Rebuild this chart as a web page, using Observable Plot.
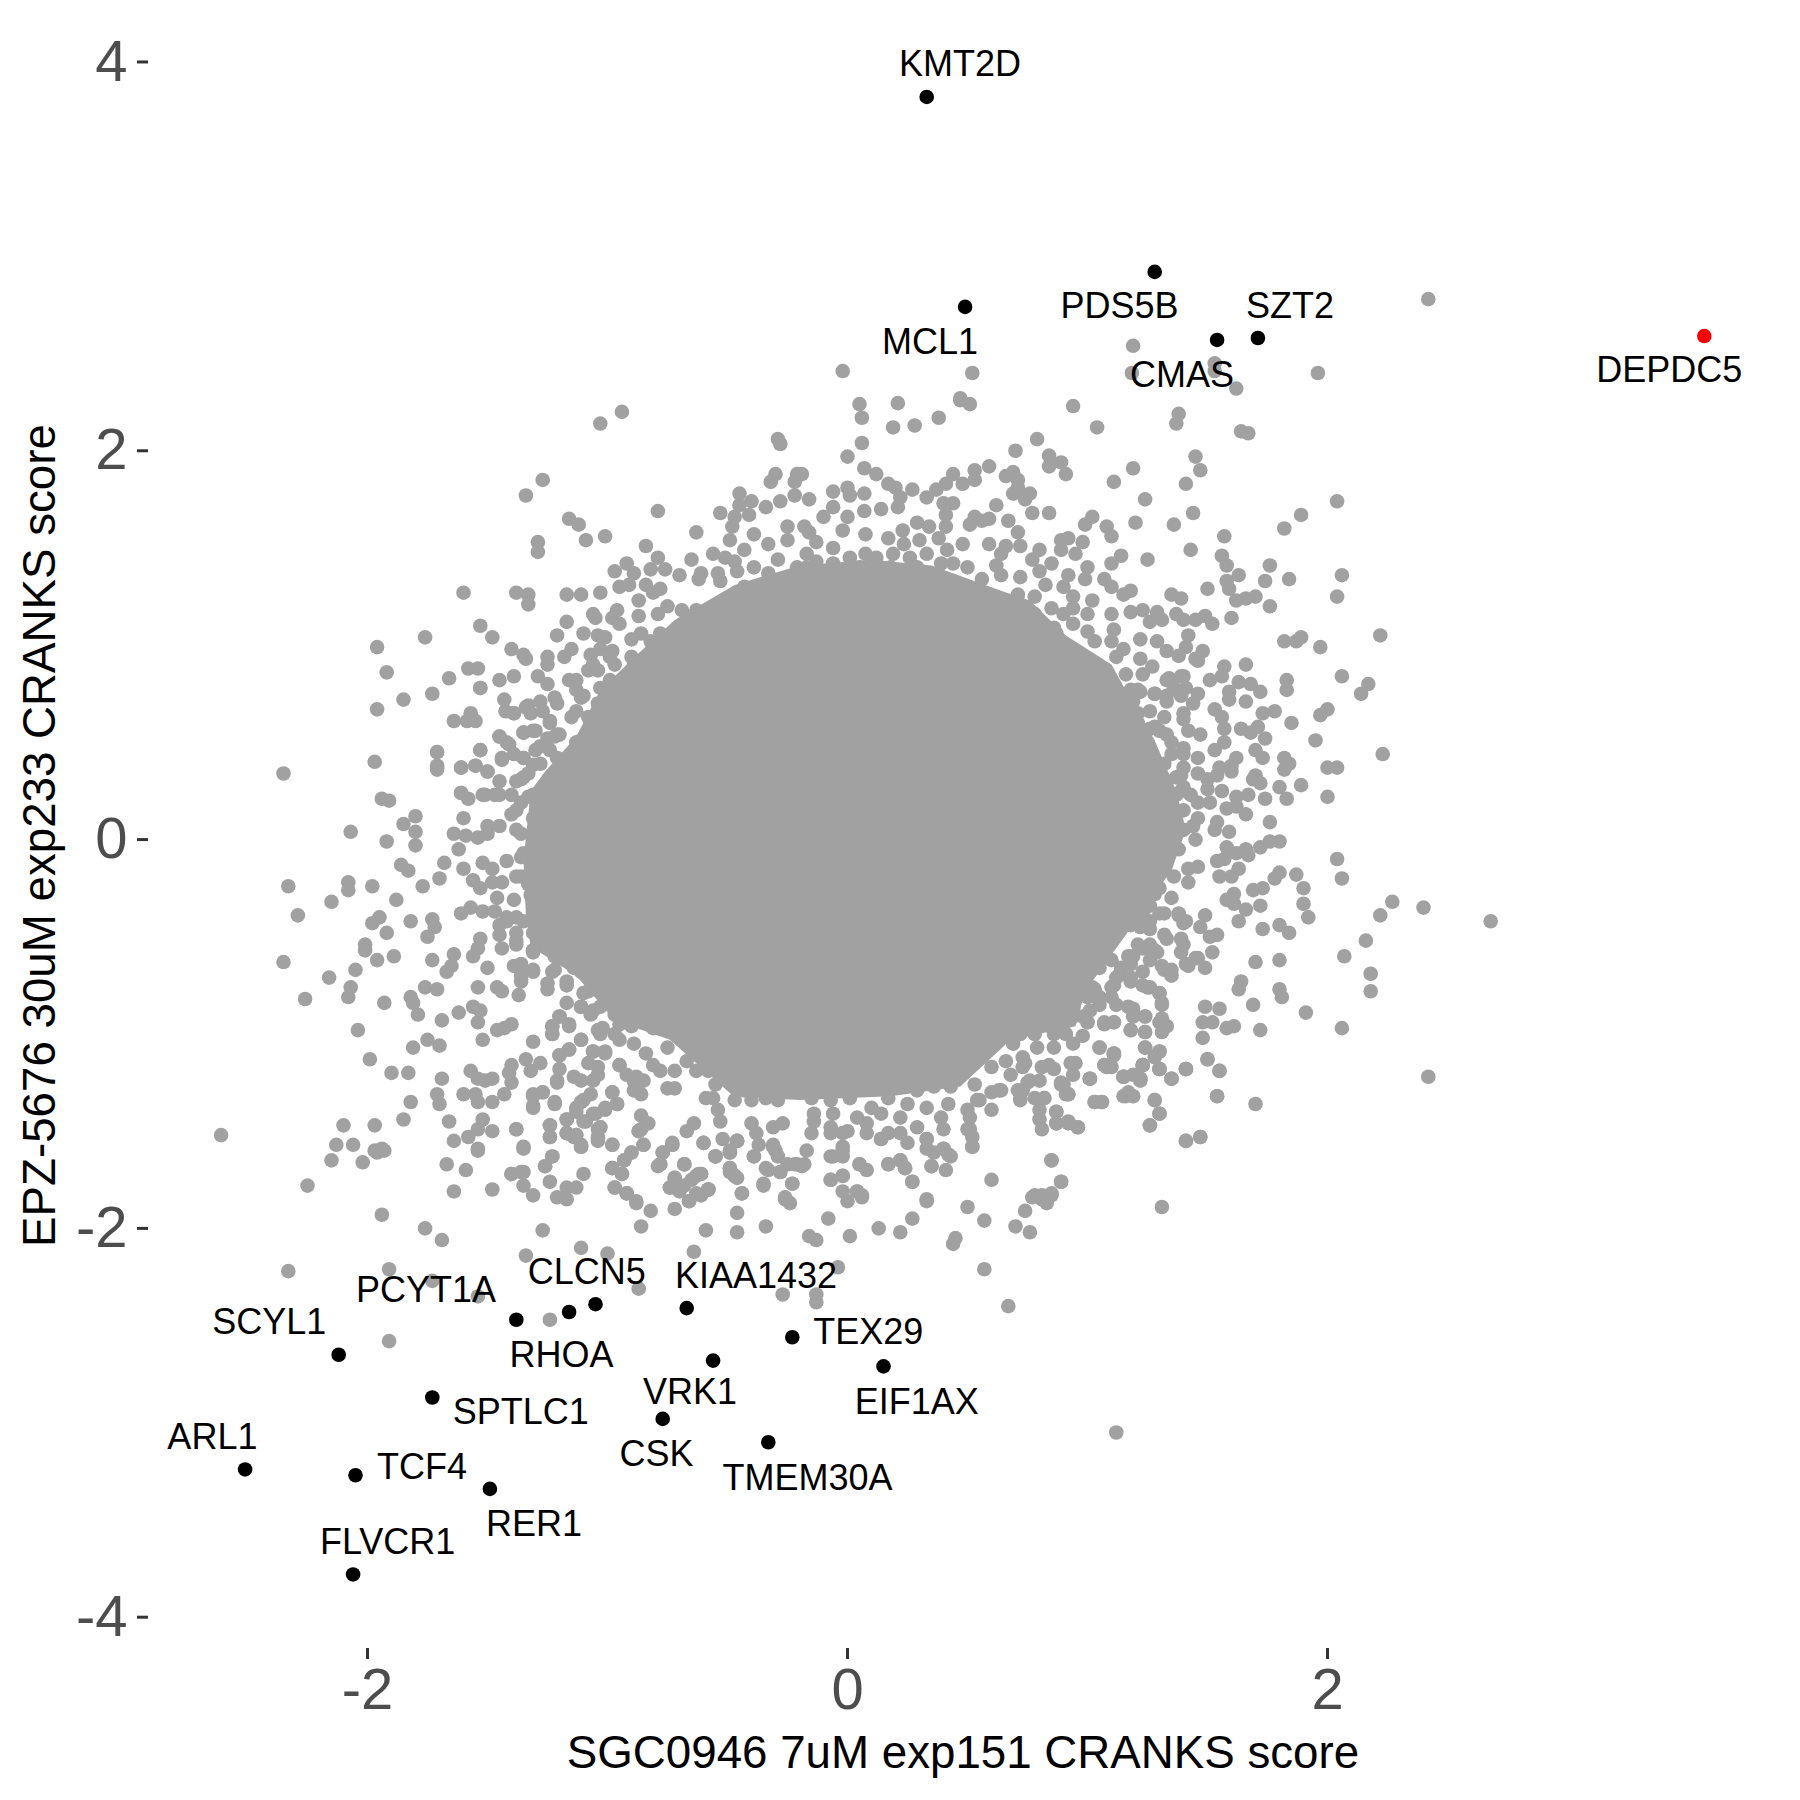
<!DOCTYPE html>
<html><head><meta charset="utf-8">
<style>html,body{margin:0;padding:0;background:#fff}</style>
<script src="https://cdn.jsdelivr.net/npm/d3@7"></script>
<script src="https://cdn.jsdelivr.net/npm/@observablehq/plot@0.6"></script>
</head><body><div id="chart"></div>
<script>
const xTitle = "SGC0946 7uM exp151 CRANKS score";
const yTitle = "EPZ-5676 30uM exp233 CRANKS score";
const xTicks = [-2, 0, 2];
const yTicks = [-4, -2, 0, 2, 4];

// solid centre of the cloud, outline
const coreOutline = [[-.47,1.31],[-.20,1.41],[.10,1.44],[.35,1.41],[.64,1.28],[.76,1.23],[.91,1.05],[1.10,.90],[1.18,.72],[1.28,.51],[1.37,.25],[1.41,.05],[1.35,-.16],[1.26,-.31],[1.16,-.49],[.99,-.78],[.95,-.96],[.68,-1.03],[.47,-1.27],[.18,-1.32],[-.20,-1.34],[-.475,-1.32],[-.74,-1.03],[-.97,-.93],[-1.13,-.70],[-1.32,-.55],[-1.34,-.39],[-1.35,-.11],[-1.32,.25],[-1.26,.35],[-1.13,.53],[-1.03,.77],[-.86,.97],[-.72,1.13]];

const grayUpperLeft = [[-1.03,2.14],[-.94,2.20],[-.29,2.06],[-.28,2.035],[-1.27,1.85],[-1.34,1.77],[-.79,1.69],[-1.16,1.65],[-1.12,1.62],[-1.09,1.54],[-1.01,1.56],[-1.29,1.53],[-1.29,1.48],[-.63,1.58],[-.53,1.68],[-.45,1.78],[-.40,1.74],[-.34,1.71],[-.28,1.74],[-.30,1.88],[-.32,1.84],[-.21,1.88],[-.22,1.84],[-.22,1.77],[-.45,1.72],[-.47,1.66],[-.41,1.67],[-.39,1.57],[-.48,1.61],[-.49,1.54],[-.43,1.49],[-.84,1.51],[-.79,1.45],[-.76,1.39],[-.82,1.39],[-.92,1.42],[-.89,1.37],[-.97,1.38],[-.95,1.30],[-.91,1.31],[-.84,1.31],[-.78,1.29],[-.81,1.27],[-.70,1.36],[-.65,1.44],[-.56,1.47],[-.51,1.45],[-.61,1.37],[-.62,1.34],[-.54,1.37],[-.33,1.52],[-.25,1.54],[-.29,1.44],[-.25,1.61],[-.47,1.43],[-1.60,1.27],[-1.38,1.27],[-1.33,1.26],[-1.33,1.21],[-1.17,1.26],[-1.11,1.26],[-1.03,1.27],[-.87,1.23],[-1.06,1.16],[-1.05,1.14],[-.96,1.18],[-.98,1.14],[-.95,1.11],[-1.17,1.12],[-1.53,1.10],[-1.48,1.04],[-1.76,1.04],[-1.21,1.05],[-1.10,1.06],[-1.04,1.05],[-1.01,1.04],[-.87,1.15],[-.79,1.16],[-.75,1.20],[-.69,1.18],[-.63,1.18],[-1.40,.98],[-1.35,.95],[-1.34,.93],[-1.15,.98],[-1.18,.94],[-1.25,.94],[-1.58,.88],[-1.54,.88],[-1.66,.83],[-1.53,.78],[-1.39,.84],[-1.45,.82],[-1.25,.90],[-1.29,.84],[-1.25,.80],[-1.16,.82],[-1.73,.75],[-1.85,.72],[-1.43,.72],[-1.425,.66],[-1.39,.65],[-1.33,.69],[-1.32,.65],[-1.28,.71],[-1.22,.73],[-1.64,.61],[-1.57,.65],[-1.585,.61],[-1.55,.61],[-1.24,.61],[-1.35,.55],[-1.30,.56],[-1.22,.53],[-1.45,.53],[-1.42,.50],[-1.53,.46],[-1.71,.45],[-1.71,.38],[-1.71,.36],[-1.61,.37],[-1.55,.38],[-1.50,.35],[-1.44,.42],[-1.45,.30],[-1.39,.44],[-1.35,.42],[-1.61,.24],[-1.51,.23],[-1.38,.30],[-1.33,.34],[-1.30,.46],[-1.07,.95],[-1.03,.98],[-.98,.97],[-1.04,.87],[-1.13,.77]];

const grayUpperRight = [[.05,2.24],[.06,2.17],[.21,2.245],[.19,2.12],[.28,2.13],[.38,2.17],[.47,2.26],[.51,2.24],[.94,2.23],[1.04,2.12],[1.38,2.19],[1.37,2.14],[.06,2.04],[0,1.97],[.07,1.91],[.12,1.88],[.17,1.83],[.20,1.81],[.22,1.76],[.21,1.71],[.27,1.80],[.70,2.0],[.79,2.06],[.84,1.975],[.84,1.92],[.89,1.94],[.91,1.88],[.59,1.92],[.53,1.90],[.53,1.85],[.44,1.88],[.41,1.83],[.37,1.80],[.33,1.76],[.48,1.83],[.69,1.89],[.66,1.87],[.71,1.85],[.71,1.81],[.69,1.78],[.76,1.78],[.74,1.75],[-.19,1.88],[0,1.81],[-.06,1.79],[.01,1.77],[.07,1.78],[-.16,1.75],[.40,1.73],[.44,1.73],[.41,1.67],[.41,1.61],[.62,1.72],[.53,1.66],[.59,1.65],[.56,1.64],[.51,1.62],[.77,1.68],[.84,1.68],[.67,1.64],[.71,1.58],[-.06,1.71],[-.10,1.66],[.14,1.70],[0,1.66],[.07,1.69],[-.02,1.59],[-.18,1.61],[-.16,1.58],[-.13,1.53],[-.06,1.50],[-.17,1.47],[.29,1.63],[.34,1.61],[.23,1.59],[.075,1.57],[.17,1.55],[.235,1.52],[.075,1.47],[.38,1.55],[.30,1.54],[.415,1.49],[.48,1.52],[.59,1.52],[.66,1.51],[.72,1.51],[.64,1.47],[.62,1.41],[.50,1.40],[.44,1.42],[.56,1.34],[.64,1.36],[1.02,1.66],[.99,1.62],[1.08,1.61],[1.10,1.56],[1.20,1.63],[1.36,1.62],[1.11,1.84],[1.19,1.91],[1.24,1.75],[1.41,1.83],[1.45,1.97],[1.47,1.90],[1.44,1.68],[.89,1.54],[.92,1.55],[.98,1.53],[.95,1.47],[.89,1.49],[.80,1.49],[.85,1.42],[.77,1.44],[.80,1.38],[1.0,1.40],[.92,1.36],[.99,1.34],[1.25,1.44],[1.43,1.49],[1.14,1.46],[1.10,1.42],[1.07,1.34],[1.10,1.30],[1.18,1.28],[1.15,1.26],[1.35,1.26],[1.39,1.24],[1.37,1.16],[1.40,1.13],[1.45,1.13],[1.10,1.16],[1.18,1.17],[1.23,1.18],[1.29,1.17],[1.31,1.13],[1.26,1.12],[1.02,1.23],[1.0,1.16],[.90,1.30],[.94,1.25],[.94,1.19],[.825,1.31],[.72,1.35],[1.11,1.08],[.87,1.06],[1.42,1.05],[1.22,1.03],[1.29,1.02],[1.33,.97],[1.38,.945],[1.41,.99],[1.15,.98],[1.22,.93],[1.27,.89],[1.23,.85],[1.46,.92],[1.34,.83],[1.40,.84],[1.21,.77],[1.28,.75],[1.19,.71],[1.36,.78],[1.41,.78],[1.33,.71],[1.26,.66],[1.40,.65],[1.32,.63],[1.28,.58],[1.19,.54],[1.22,.47],[1.33,.54],[1.40,.47],[1.32,.39],[1.40,.37],[1.39,.25],[1.23,.22],[1.19,2.54],[1.185,2.40],[.52,2.40],[-.02,2.41],[.47,2.27],[2.42,2.78],[1.96,2.40],[1.53,2.45],[1.53,2.41],[1.62,2.32],[1.64,2.10],[1.67,2.09],[2.04,1.74],[1.89,1.67],[1.82,1.60],[1.57,1.56]];

const grayRight = [[1.56,1.46],[1.58,1.41],[1.63,1.36],[1.58,1.33],[1.59,1.29],[1.50,1.29],[1.62,1.23],[1.66,1.24],[1.70,1.25],[1.76,1.41],[1.74,1.33],[1.84,1.34],[1.76,1.20],[2.06,1.36],[2.04,1.25],[1.60,1.14],[1.52,1.11],[1.49,1.15],[1.82,1.02],[1.87,1.02],[1.89,1.04],[1.97,.99],[2.22,1.05],[1.48,.97],[1.45,.93],[1.57,.89],[1.66,.90],[2.06,.84],[2.17,.80],[2.14,.75],[1.83,.82],[1.83,.77],[1.51,.82],[1.56,.84],[1.63,.81],[1.68,.80],[1.72,.76],[1.59,.76],[1.59,.72],[1.66,.71],[1.78,.66],[1.73,.65],[2.0,.67],[1.97,.64],[1.85,.60],[1.95,.51],[1.53,.67],[1.56,.63],[1.57,.57],[1.64,.57],[1.68,.55],[1.71,.58],[1.74,.52],[1.57,.50],[1.70,.46],[1.73,.42],[1.82,.42],[1.84,.39],[1.82,.36],[2.23,.44],[2.0,.37],[2.04,.37],[1.62,.42],[1.60,.35],[1.54,.33],[1.70,.33],[1.69,.31],[1.72,.29],[1.80,.27],[1.89,.28],[2.0,.22],[1.83,.21],[1.74,.21],[1.67,.23],[1.62,.22],[1.56,.25],[1.51,.19],[1.58,.16],[1.62,.17],[1.66,.13],[1.76,.09],[1.54,.09],[1.53,.05],[1.59,.04],[1.45,0],[1.46,.11],[1.40,.05],[1.35,.10],[1.58,-.04],[1.62,-.07],[1.66,-.05],[1.67,-.08],[1.72,-.04],[1.76,-.01],[1.80,-.01],[1.54,-.11],[1.57,-.10],[1.46,-.14],[1.42,-.15],[1.42,-.22],[1.55,-.19],[1.60,-.19],[1.63,-.15],[2.04,-.10],[2.06,-.20],[1.80,-.17],[1.78,-.20],[1.87,-.18],[1.90,-.25],[1.90,-.33],[1.92,-.40],[1.69,-.26],[1.73,-.25],[1.61,-.28],[1.58,-.31],[1.61,-.33],[1.66,-.36],[1.72,-.34],[2.27,-.32],[2.22,-.39],[2.40,-.35],[2.68,-.42],[1.63,-.42],[1.49,-.39],[1.38,-.38],[1.41,-.42],[1.47,-.45],[1.73,-.46],[1.80,-.44],[1.84,-.48],[1.54,-.49],[1.51,-.50],[2.16,-.52],[2.07,-.60],[2.18,-.69],[2.18,-.78],[1.70,-.63],[1.80,-.62],[1.64,-.73],[1.63,-.77],[1.80,-.77],[1.81,-.81],[1.91,-.89],[2.06,-.97],[1.69,-.85],[1.49,-.86],[1.55,-.87],[1.48,-.94],[1.52,-.94],[1.58,-.97],[1.61,-.96],[1.72,-.98],[1.48,-1.02],[1.50,-1.13],[1.55,-1.19],[2.42,-1.22],[1.54,-1.32],[1.70,-1.36],[1.41,-1.18],[1.35,-1.23],[1.30,-1.18],[1.30,-1.09],[1.24,-1.07],[1.23,-1.16],[1.22,-1.23],[1.15,-1.22],[1.11,-1.10],[1.05,-1.07],[1.08,-1.17],[1.01,-1.23],[1.28,-1.34],[1.30,-1.41],[1.26,-1.47],[1.41,-1.55],[1.47,-1.53],[1.19,-1.32],[1.15,-1.32],[1.17,-1.30],[1.03,-1.35],[1.06,-1.35],[.92,-1.31],[.96,-1.48],[.92,-1.46],[.87,-1.40],[.87,-1.46],[.89,-1.25],[1.33,-.96],[1.31,-.92],[1.24,-.99],[1.18,-.98],[1.24,-.91],[1.31,-.84],[1.30,-.79],[1.26,-.76],[1.23,-.75],[1.18,-.71],[1.13,-.70],[1.11,-.75],[1.02,-.76],[1.04,-.81],[1.19,-.87],[1.11,-.94],[1.07,-.95],[1.0,-.94],[1.35,-.70],[1.32,-.67],[1.42,-.65],[1.49,-.66],[1.52,-.58],[1.45,-.61],[1.39,-.58],[1.29,-.58],[1.39,-.51],[1.33,-.51],[1.26,-.05],[1.33,-.03],[1.38,-.05],[1.32,-.13],[1.36,-.19],[1.30,-.25],[1.35,-.30],[1.26,-.34],[1.32,-.38],[1.26,-.46],[1.23,-.56],[1.19,-.60],[1.26,.21],[1.30,.27],[1.39,.33],[1.37,.23],[1.43,.23],[1.46,.34],[1.40,.27],[1.40,.15],[1.46,.19],[1.50,.26],[1.55,.37],[1.50,.31],[1.60,.38],[1.44,.07],[1.36,.04],[1.32,.31],[1.29,.38],[1.35,.44],[1.40,.44],[1.46,.42],[1.53,.46],[1.47,.54],[1.42,.56],[1.35,.50],[1.30,.56],[1.26,.57],[1.40,.62],[1.46,.75],[1.44,.70],[1.33,.82],[1.39,.84],[1.39,.74],[1.33,.74],[1.22,.76],[1.28,.75],[1.18,.72]];

const grayLeft = [[-1.96,.99],[-1.92,.86],[-1.96,.67],[-1.97,.40],[-2.35,.34],[-1.94,.21],[-1.91,.20],[-1.80,.12],[-1.85,.08],[-1.80,.04],[-1.80,-.03],[-2.07,.04],[-1.92,-.01],[-1.60,.11],[-1.64,.03],[-1.59,.02],[-1.54,.01],[-1.50,.03],[-1.50,.07],[-1.62,-.05],[-1.68,-.12],[-1.60,-.15],[-1.42,-.11],[-1.52,-.12],[-1.48,-.15],[-1.86,-.13],[-1.83,-.16],[-1.70,-.20],[-1.77,-.24],[-1.56,-.21],[-1.53,-.25],[-1.48,-.22],[-1.44,-.22],[-2.33,-.24],[-2.08,-.22],[-2.08,-.26],[-1.98,-.24],[-2.15,-.32],[-1.88,-.31],[-2.29,-.39],[-1.61,-.38],[-1.57,-.35],[-1.52,-.37],[-1.46,-.30],[-1.39,-.31],[-1.98,-.43],[-1.95,-.40],[-1.82,-.42],[-1.73,-.41],[-1.72,-.45],[-1.75,-.50],[-1.92,-.48],[-2.01,-.54],[-2.01,-.57],[-2.35,-.63],[-1.96,-.62],[-1.89,-.60],[-1.73,-.62],[-1.53,-.51],[-1.54,-.56],[-1.56,-.60],[-1.44,-.56],[-1.64,-.59],[-1.65,-.65],[-1.67,-.68],[-1.50,-.66],[-2.05,-.67],[-2.16,-.71],[-2.07,-.76],[-2.08,-.81],[-2.26,-.82],[-1.93,-.84],[-1.82,-.81],[-1.81,-.84],[-1.76,-.76],[-1.71,-.77],[-1.54,-.76],[-1.46,-.76],[-1.44,-.78],[-1.37,-.80],[-1.79,-.90],[-1.69,-.93],[-1.62,-.89],[-1.56,-.86],[-1.53,-.88],[-1.54,-.94],[-2.04,-.98],[-1.75,-1.03],[-1.70,-1.06],[-1.81,-1.07],[-1.52,-1.03],[-1.46,-.98],[-1.43,-.97],[-1.40,-.95],[-1.99,-1.13],[-1.90,-1.20],[-1.83,-1.20],[-1.69,-1.23],[-1.57,-1.19],[-1.54,-1.23],[-1.51,-1.24],[-1.48,-1.23],[-1.40,-1.16],[-1.41,-1.20],[-1.40,-1.25],[-1.31,-1.04],[-1.34,-1.13],[-1.28,-1.15],[-1.32,-1.19],[-1.71,-1.31],[-1.70,-1.36],[-1.82,-1.35],[-1.60,-1.31],[-1.55,-1.31],[-1.54,-1.35],[-1.48,-1.35],[-1.43,-1.31],[-1.31,-1.31],[-1.27,-1.30],[-1.31,-1.37],[-1.22,-1.35],[-1.85,-1.44],[-1.97,-1.47],[-2.10,-1.47],[-1.66,-1.45],[-1.52,-1.44],[-2.61,-1.52],[-2.13,-1.57],[-2.06,-1.57],[-1.97,-1.60],[-1.94,-1.59],[-1.64,-1.55],[-1.58,-1.53],[-1.54,-1.49],[-1.48,-1.50],[-1.38,-1.49],[-1.35,-1.58],[-1.54,-1.59],[-1.36,-.70],[-1.31,-.68],[-1.39,-.65],[-1.23,-.68],[-1.25,-.77],[-1.17,-.75],[-1.10,-.79],[-1.17,-.84],[-1.20,-.91],[-1.16,-.95],[-1.23,-.96],[-1.23,-1.0],[-1.11,-.86],[-1.06,-.88],[-1.03,-1.0],[-.95,-.95],[-1.11,-1.03],[-1.20,-1.11],[-1.16,-1.08],[-1.20,-1.18],[-1.21,-1.24],[-1.06,-1.09],[-1.01,-1.10],[-1.04,-1.17],[-1.06,-1.24],[-.95,-1.16],[-.89,-1.24],[-.98,-1.30],[-.96,-1.36],[-1.11,-1.35],[-1.13,-1.40],[-1.01,-1.39],[-1.05,-1.41],[-1.03,-1.48],[-1.17,-1.44],[-1.09,-1.45],[-1.24,-1.47],[-1.24,-1.53],[-1.17,-1.51],[-1.13,-1.52],[-1.04,-1.53],[-1.11,-1.57],[-.98,-1.57],[-.87,-1.50],[-1.24,.60],[-1.40,.13],[-1.36,.03],[-1.35,-.07],[-1.36,-.19],[-1.33,-.23],[-1.31,-.42],[-1.38,-.52],[-1.38,.15],[-1.42,-.40],[-1.45,-.44],[-1.31,-.57],[-1.45,.07],[-1.45,.23],[-1.53,.78],[-1.39,.65],[-1.45,.53],[-1.41,.49],[-1.53,.46],[-1.71,.45],[-1.71,.37],[-1.61,.37],[-1.55,.38],[-1.50,.35],[-1.44,.41],[-1.35,.42],[-1.61,.24],[-1.58,.21],[-1.52,.23],[-1.47,.23],[-1.35,.55],[-1.31,.56],[-1.25,.52]];

const grayLowerLeft = [[-2.15,-1.65],[-2.02,-1.66],[-1.96,-1.61],[-1.93,-1.60],[-2.25,-1.78],[-1.54,-1.60],[-1.67,-1.67],[-1.59,-1.70],[-1.64,-1.81],[-1.48,-1.80],[-1.23,-1.63],[-1.26,-1.68],[-1.40,-1.72],[-1.35,-1.71],[-1.35,-1.78],[-1.31,-1.83],[-1.24,-1.76],[-1.10,-1.72],[-1.13,-1.79],[-1.17,-1.79],[-1.21,-1.84],[-1.17,-1.85],[-1.14,-1.53],[-1.11,-1.58],[-1.04,-1.49],[-1.04,-1.55],[-.93,-1.65],[-.90,-1.61],[-.98,-1.69],[-.94,-1.72],[-.97,-1.79],[-.92,-1.82],[-.88,-1.87],[-.82,-1.91],[-.72,-1.90],[-.86,-1.99],[-.59,-2.01],[-.46,-1.92],[-.46,-2.02],[-.44,-1.82],[-.85,-1.57],[-.86,-1.49],[-.78,-1.67],[-.77,-1.61],[-.73,-1.56],[-.68,-1.67],[-.72,-1.74],[-.74,-1.79],[-.70,-1.81],[-.66,-1.86],[-.61,-1.83],[-.58,-1.80],[-.61,-1.72],[-.65,-1.75],[-.55,-1.63],[-.49,-1.71],[-.46,-1.74],[-.49,-1.61],[-.46,-1.55],[-1.94,-1.93],[-1.76,-2.0],[-1.69,-2.06],[-1.27,-2.01],[-2.33,-2.22],[-1.11,-2.10],[-1.0,-2.13],[-1.34,-2.14],[-.64,-2.12],[-1.91,-2.21],[-1.73,-2.27],[-1.54,-2.35],[-.87,-2.31],[-1.24,-2.47],[-1.91,-2.58]];

const grayLowerMid = [[1.12,-3.05],[.67,-2.40],[.57,-2.21],[-.27,-2.34],[-.13,-2.34],[-.13,-2.38],[-.04,-2.20],[-.34,-1.99],[-.16,-2.04],[-.13,-2.06],[.01,-2.04],[.13,-2.0],[.22,-2.02],[.27,-1.95],[-.08,-1.95],[.33,-1.86],[.45,-2.05],[.44,-2.08],[.50,-1.89],[.57,-1.96],[.70,-1.99],[.76,-2.02],[.74,-1.91],[.77,-1.84],[.81,-1.85],[.83,-1.87],[.85,-1.83],[.89,-1.76],[.85,-1.65],[1.31,-1.89],[1.41,-1.55],[1.47,-1.53],[.60,-1.75],[.27,-1.76],[-.07,-1.75],[-.02,-1.73],[-.02,-1.81],[0,-1.86],[.04,-1.81],[.06,-1.84],[.05,-1.67],[.08,-1.70],[.17,-1.67],[.22,-1.65],[.24,-1.69],[.35,-1.68],[.41,-1.70],[-.23,-1.77],[-.26,-1.85],[-.24,-1.87],[-.35,-1.77],[-.49,-1.69],[-.47,-1.73],[-.34,-1.69],[-.28,-1.71],[-.22,-1.67],[-.19,-1.68],[-.68,-1.67],[-.62,-1.72],[-.58,-1.80],[-.66,-1.86],[-.72,-1.79],[-.78,-1.67],[-.39,-1.63],[-.55,-1.63],[-.49,-1.61],[-.46,-1.55],[-.30,-1.60],[-.31,-1.57],[-.60,-1.56],[-.73,-1.57],[-.07,-1.63],[-.02,-1.60],[-.17,-1.60],[.14,-1.54],[.25,-1.56],[.33,-1.54],[.33,-1.59],[.42,-1.62],[.40,-1.59],[.52,-1.58],[.52,-1.53],[.50,-1.49],[.29,-1.48],[.40,-1.49],[.60,-1.39],[.81,-1.49],[.80,-1.44],[.80,-1.39],[.87,-1.40],[.87,-1.46],[.92,-1.45],[.96,-1.48],[1.03,-1.35],[1.06,-1.35],[1.16,-1.32],[1.19,-1.32],[1.26,-1.47],[1.30,-1.41],[1.28,-1.34],[.72,-1.33],[.82,-1.33],[.92,-1.31],[1.01,-1.23],[1.15,-1.22],[1.22,-1.23],[1.23,-1.16],[1.30,-1.18],[1.35,-1.23],[1.41,-1.18],[1.50,-1.13],[1.55,-1.19],[1.54,-1.32],[1.11,-1.11],[1.07,-1.16],[.74,-1.15],[.84,-1.16],[.93,-1.15],[.89,-1.26],[.76,-1.24],[.71,-1.29],[.63,-1.29]];

const grayBottomFringe = [[-1.11,-.86],[-1.07,-.90],[-1.20,-.91],[-1.16,-.96],[-1.23,-.96],[-1.23,-1.0],[-1.04,-.98],[-.97,-.90],[-.90,-.96],[-.95,-1.03],[-.89,-1.05],[-1.11,-1.03],[-1.16,-1.08],[-1.20,-1.11],[-1.01,-1.09],[-1.06,-1.09],[-.95,-1.16],[-.81,-1.16],[-1.08,-1.15],[-1.04,-1.21],[-1.14,-1.22],[-1.21,-1.25],[-1.11,-1.24],[-.88,-1.22],[-.92,-1.21],[-.85,-1.24],[-.89,-1.29],[-.98,-1.30],[-.86,-1.31],[-.72,-1.19],[-.75,-1.28],[-.72,-1.28],[-.63,-1.19],[-.58,-1.19],[-.55,-1.26],[-.49,-1.23],[-.56,-1.33],[-.59,-1.33],[-.47,-1.34],[-.40,-1.34],[-.34,-1.33],[-.29,-1.34],[-.21,-1.27],[-.54,-1.39],[-.96,-1.36],[-1.01,-1.38],[-1.06,-1.41],[-1.13,-1.38],[-1.10,-1.34],[-1.07,-1.31],[-1.17,-1.44],[-1.10,-1.45],[-1.03,-1.48],[-1.04,-1.54],[-1.11,-1.58],[-1.17,-1.51],[-1.13,-1.52],[-1.22,-1.36],[-1.31,-1.38],[-1.31,-1.32],[-1.27,-1.30],[-1.24,-1.47],[-1.24,-1.53],[-1.38,-1.49],[-1.35,-1.59],[-1.26,-1.68],[-1.23,-1.63],[-1.40,-1.72],[-1.36,-1.71],[-.98,-1.57],[-.90,-1.61],[-.93,-1.65],[-.98,-1.69],[-.94,-1.72],[-.97,-1.79],[-.92,-1.82],[-.88,-1.86],[-.85,-1.57],[-.87,-1.50],[-.83,-1.46],[-.86,-1.42],[-.77,-1.61],[-.79,-1.68],[-.73,-1.57],[-.68,-1.67],[-.72,-1.74],[-.74,-1.79],[-.68,-1.78],[-.63,-1.73],[-.61,-1.72],[-.58,-1.80],[-.63,-1.82],[-.67,-1.50],[-.64,-1.46],[-.60,-1.56],[-.53,-1.45],[-.52,-1.54],[-.55,-1.63],[-.46,-1.55],[-.49,-1.60],[-.49,-1.69],[-.47,-1.73],[-.39,-1.63],[-.37,-1.57],[-.44,-1.82],[-.33,-1.70],[-.28,-1.71],[-.35,-1.78],[-.31,-1.58],[-.29,-1.63],[-.23,-1.77],[-.25,-1.67],[-.21,-1.67],[-.26,-1.84],[-.40,-1.46],[-.31,-1.48],[-.27,-1.46],[-.38,-1.51],[.51,-1.49],[.52,-1.58],[.51,-1.43],[.50,-1.39],[.33,-1.54],[.36,-1.61],[.40,-1.59],[.43,-1.63],[.14,-1.54],[.17,-1.51],[.22,-1.51],[.08,-1.51],[.08,-1.46],[.35,-1.68],[.27,-1.76],[.17,-1.67],[.22,-1.65],[.24,-1.69],[.05,-1.67],[-.02,-1.73],[-.07,-1.75],[.04,-1.81],[.06,-1.83],[.33,-1.85],[.85,-1.65],[.89,-1.76],[.78,-1.83],[.81,-1.83],[.85,-1.82],[-.02,-1.63],[-.06,-1.63],[-.02,-1.58],[-.07,-1.51],[-.02,-1.51],[-.14,-1.45],[-.07,-1.48],[-.18,-1.67],[.73,-1.29],[.72,-1.34],[.78,-1.33],[.82,-1.33],[.75,-1.25],[.80,-1.24],[.91,-1.31],[.90,-1.26],[.94,-1.21],[1.01,-1.23],[.86,-1.18],[.81,-1.17],[.95,-1.15],[.73,-1.12],[.73,-1.17],[.68,-1.21],[.64,-1.29],[.60,-1.30],[.55,-1.34],[.86,-1.07],[.79,-1.07],[.94,-1.05],[.98,-1.01],[1.05,-1.07],[1.11,-1.10],[1.07,-1.16],[1.10,-1.17],[1.15,-1.22],[1.19,-1.21],[1.22,-1.24],[1.23,-1.16],[1.24,-1.07],[1.30,-1.09],[1.28,-1.12],[1.30,-1.18],[1.35,-1.23],[1.41,-1.18],[1.18,-.98],[1.24,-.99],[1.30,-.94],[1.33,-.96],[1.31,-.99],[1.0,-.94],[1.07,-.94],[1.11,-.94],[1.24,-.91],[1.17,-.86],[1.19,-.91],[1.12,-.85],[1.31,-.85],[1.30,-.79],[1.25,-.76],[1.18,-.73],[1.12,-.71],[1.10,-.76],[1.03,-.77],[1.05,-.81],[1.35,-.67],[1.31,-.65],[1.41,-.64],[1.46,-.61],[1.28,-.57],[1.40,-.54],[1.38,-.39],[1.40,-.43]];

// points packed against the solid centre, where the picture is nearly closed
const grayEdgeLeft = [[-1.31,.385],[-1.24,.31],[-1.36,.31],[-1.31,.23],[-1.24,.19],[-1.36,.19],[-1.20,.11],[-1.31,.11],[-1.38,.05],[-1.25,.03],[-1.31,-.05],[-1.36,-.09],[-1.22,-.09],[-1.31,-.17],[-1.25,-.23],[-1.38,-.19],[-1.32,-.285],[-1.25,-.34],[-1.38,-.40],[-1.31,-.48],[-1.24,-.48],[-1.18,-.40],[-1.17,-.58],[-1.11,-.68],[-1.22,-.60],[-1.31,-.58],[-1.38,-.48],[-1.17,-.245],[-1.17,-.13],[-1.14,-.01],[-1.14,.15],[-1.17,.27],[-1.13,.385],[-1.21,.42],[-1.28,.48],[-1.21,.54],[-1.13,.50],[-1.07,.58],[-1.13,.66],[-1.04,.70],[-.99,.62],[-1.07,.42],[-1.02,.31],[-1.03,.46],[-.95,.54],[-.93,.70],[-.89,.90],[-1.06,.90],[-.99,.94],[-.90,1.03],[-.99,.82],[-1.13,.82],[-1.21,.70],[-1.27,.66],[-1.34,.68],[-1.10,.74]];

const grayEdgeUpperLeft = [[-.97,.90],[-.90,.94],[-.82,1.02],[-.86,1.06],[-.78,1.06],[-.71,1.07],[-.89,.85],[-.96,.80],[-1.03,.78],[-1.08,.87],[-1.0,.68],[-.93,.71],[-.85,.80],[-.78,.89],[-1.11,.73],[-1.15,.63],[-1.08,.63],[-1.02,.58],[-1.20,.54],[-1.11,.51],[-1.24,.46],[-1.17,.42],[-1.10,.44],[-1.28,.39],[-1.21,.34],[-1.14,.35],[-1.35,.32],[-1.28,.25],[-1.20,.25],[-1.40,.23],[-1.33,.22],[-1.13,.25],[-1.04,.47],[-.97,.54],[-.90,.63],[-.83,.71],[-.95,.46],[-.86,.58],[-.78,.68],[-.71,.78],[-.67,.95],[-.64,1.06],[-.57,1.14],[-.50,1.23],[-.43,1.30],[-.53,1.33],[-.46,1.38],[-.39,1.40],[-.33,1.37],[-.24,1.33],[-.21,1.40],[-.68,.89],[-.61,1.02],[-.54,1.06],[-.47,1.14]];

const grayEdgeTop = [[-.13,1.43],[-.06,1.42],[.01,1.45],[.12,1.45],[.19,1.47],[.26,1.45],[.33,1.47],[.39,1.42],[.18,1.40],[.29,1.40],[.05,1.40],[.44,1.33],[.50,1.30],[.57,1.25],[.64,1.23],[.71,1.26],[.78,1.25],[.85,1.19],[.90,1.16],[.94,1.11],[.69,1.19],[.78,1.16],[.86,1.09],[1.0,1.07],[1.03,1.02],[1.10,1.02],[1.12,.94],[1.16,.85],[1.18,.77],[1.21,.65],[1.23,.54],[1.26,.44],[1.29,.34],[1.32,.29],[1.37,.32],[1.10,.78],[.22,1.35],[.36,1.35],[.53,1.23],[-.03,1.37],[-.11,1.37],[-.17,1.40],[.14,1.37],[1.21,.60],[1.25,.50],[1.26,.38]];

const grayEdgeBottom = [[-.13,-1.24],[.01,-1.24],[.08,-1.24],[.15,-1.21],[.22,-1.21],[.29,-1.22],[.36,-1.27],[.43,-1.27],[.53,-1.26],[.60,-1.17],[.66,-1.14],[.69,-1.05],[-.15,-1.33],[-.07,-1.34],[.01,-1.33],[.10,-1.38],[.17,-1.33],[.25,-1.36],[.33,-1.38],[.42,-1.36],[.54,-1.34],[.29,-1.29],[-.06,-1.41],[-.14,-1.41],[.04,-1.43],[.14,-1.41],[.22,-1.43],[.39,-1.43],[-.15,-1.51],[0,-1.50],[.72,-1.0],[.86,-1.0],[.78,-1.0],[.91,-1.0],[.94,-.91],[1.01,-.88],[1.05,-.85],[1.10,-.81],[1.0,-.81],[1.18,-.64],[1.21,-.54],[1.14,-.66],[1.22,-.45],[1.26,-.54],[1.32,-.49],[1.26,-.42],[1.19,-.40],[1.30,-.38],[-.75,-1.07],[-.67,-1.14],[-.59,-1.14],[-.50,-1.14],[-.42,-1.17],[-.33,-1.14],[-.27,-1.14],[-.35,-1.24],[-.43,-1.29],[-.27,-1.24],[-.78,-1.19],[-.84,-1.10],[-1.02,-.97],[-.97,-1.0],[-.81,-.97],[-.89,-.90],[-1.03,-.86],[-1.08,-.78],[-1.17,-.73],[-1.25,-.74],[-1.31,-.67],[-1.22,-.67],[-1.14,-.66],[-1.06,-.69],[-1.36,-.64],[-1.36,-.73],[-1.31,-.57],[-1.38,-.54],[-1.45,-.49],[-1.42,-.42],[-1.47,-.37],[-1.35,-.42],[-1.28,-.47],[-1.22,-.52],[-1.17,-.61],[1.26,-.62],[1.23,-.68],[1.17,-.60],[1.10,-.62],[1.12,-.48],[1.18,-.44],[1.23,-.38],[1.28,-.28],[1.05,-.66],[.97,-.78],[.93,-.86],[.98,-.91],[.90,-.95]];

const grayPoints = [...grayUpperLeft, ...grayUpperRight, ...grayRight, ...grayLeft, ...grayLowerLeft, ...grayLowerMid, ...grayBottomFringe, ...grayEdgeLeft, ...grayEdgeUpperLeft, ...grayEdgeTop, ...grayEdgeBottom];

const hitNames = ["KMT2D","MCL1","PDS5B","CMAS","SZT2","SCYL1","SPTLC1","ARL1","TCF4","RER1","FLVCR1","CSK","VRK1","RHOA","PCYT1A","CLCN5","KIAA1432","TEX29","EIF1AX","TMEM30A"];
const hitX = [.33,.49,1.28,1.54,1.71,-2.12,-1.73,-2.51,-2.05,-1.49,-2.06,-.77,-.56,-1.38,-1.16,-1.05,-.67,-.23,.15,-.33];
const hitY = [3.82,2.74,2.92,2.57,2.58,-2.65,-2.87,-3.24,-3.27,-3.34,-3.78,-2.98,-2.68,-2.47,-2.43,-2.39,-2.41,-2.56,-2.71,-3.10];
const labelX = [.475,.35,1.14,1.40,1.85,-2.403,-1.355,-2.64,-1.767,-1.30,-1.91,-.79,-.65,-1.185,-1.75,-1.08,-.375,.093,.295,-.16];
const labelY = [3.99,2.56,2.75,2.39,2.75,-2.48,-2.94,-3.07,-3.225,-3.52,-3.61,-3.16,-2.84,-2.65,-2.315,-2.22,-2.24,-2.53,-2.89,-3.28];

const topHit = {name:"DEPDC5", x:3.57, y:2.59, labelX:3.43, labelY:2.42};

const GRAY = "#A1A1A1";
const hits = hitNames.map((name,i)=>({name,x:hitX[i],y:hitY[i],lx:labelX[i],ly:labelY[i]}));
hits.push({name:topHit.name,x:topHit.x,y:topHit.y,lx:topHit.labelX,ly:topHit.labelY});

const chart = Plot.plot({
  width:1800, height:1800,
  marginLeft:148, marginRight:20, marginTop:22, marginBottom:152,
  style:{fontFamily:"'Liberation Sans', Arial, sans-serif", background:"#fff", overflow:"visible"},
  x:{domain:[-2.9125,3.8875], label:null},
  y:{domain:[-4.161,4.203], label:null},
  marks:[
    Plot.line(coreOutline,{x:d=>d[0],y:d=>d[1],fill:GRAY,stroke:"none"}),
    Plot.dot(grayPoints,{x:d=>d[0],y:d=>d[1],r:7.3,fill:GRAY,stroke:"none"}),
    Plot.dot(hits.filter(d=>d.name!=="DEPDC5"),{x:"x",y:"y",r:7.3,fill:"#000",stroke:"none"}),
    Plot.dot(hits.filter(d=>d.name==="DEPDC5"),{x:"x",y:"y",r:7.3,fill:"#FF0000",stroke:"none"}),
    Plot.text(hits,{x:"lx",y:"ly",text:"name",fontSize:36,fill:"#000",textAnchor:"middle",lineAnchor:"middle",dx:-1.5,dy:1}),
    Plot.axisX({ticks:xTicks,tickSize:11,tickPadding:8,tickFormat:d=>String(d),fontSize:58,stroke:"#333333",strokeWidth:3,fill:"#4D4D4D",label:null,marginBottom:152}),
    Plot.axisY({ticks:yTicks,tickSize:11,tickPadding:10,tickFormat:d=>String(d),fontSize:58,stroke:"#333333",strokeWidth:3,fill:"#4D4D4D",label:null,marginLeft:148}),
    Plot.text([xTitle],{frameAnchor:"bottom",dx:-1.5,dy:105,fontSize:45.7,fill:"#000",lineAnchor:"middle"}),
    Plot.text([yTitle],{frameAnchor:"left",dx:-108,rotate:-90,fontSize:45.7,fill:"#000",lineAnchor:"middle",textAnchor:"middle"})
  ]
});
document.getElementById("chart").appendChild(chart);
</script></body></html>
